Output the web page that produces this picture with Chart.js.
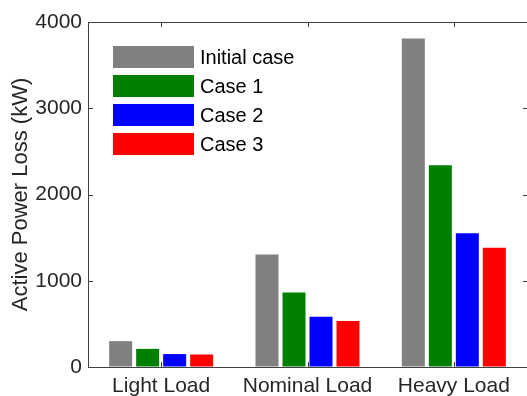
<!DOCTYPE html>
<html>
<head>
<meta charset="utf-8">
<script src="https://cdn.jsdelivr.net/npm/chart.js@4.4.0/dist/chart.umd.min.js"></script>
<style>
  html, body { margin: 0; padding: 0; background: #fff; overflow: hidden; }
  #wrap { width: 527px; height: 396px; }
</style>
</head>
<body>
<div id="wrap"><canvas id="myChart" width="527" height="396"></canvas></div>
<script>
// datos
let categories = ["Light Load", "Nominal Load", "Heavy Load"];
let seriesNames = ["Initial case", "Case 1", "Case 2", "Case 3"];
let initialCase = [300, 1305, 3810];
let case1 = [210, 865, 2338];
let case2 = [150, 583, 1550];
let case3 = [145, 532, 1383];
let yTicks = [0, 1000, 2000, 3000, 4000];
let colors = ["#808080", "#008000", "#0000ff", "#ff0000"];

const FONT = "'Liberation Sans', Arial, Helvetica, sans-serif";
const TEXT = "#262626";
const AXIS = "#404040";

// ticks hacia adentro y marco de arriba (estilo matlab)
const boxPlugin = {
  id: "boxPlugin",
  afterDraw(chart) {
    const ctx = chart.ctx;
    const a = chart.chartArea;
    const x = chart.scales.x;
    const y = chart.scales.y;
    ctx.save();
    ctx.strokeStyle = AXIS;
    ctx.lineWidth = 1;
    ctx.beginPath();
    ctx.moveTo(a.left, a.top + 0.5);
    ctx.lineTo(a.right, a.top + 0.5);
    yTicks.forEach(v => {
      const py = Math.round(y.getPixelForValue(v)) + 0.5;
      ctx.moveTo(a.left, py);
      ctx.lineTo(a.left + 5, py);
      ctx.moveTo(a.right, py);
      ctx.lineTo(a.right - 4, py);
    });
    categories.forEach((c, i) => {
      const px = Math.round(x.getPixelForValue(i)) + 0.5;
      ctx.moveTo(px, a.bottom);
      ctx.lineTo(px, a.bottom - 5);
      ctx.moveTo(px, a.top);
      ctx.lineTo(px, a.top + 5);
    });
    ctx.stroke();

    // leyenda dentro del area
    ctx.font = "20px " + FONT;
    ctx.textBaseline = "middle";
    ctx.textAlign = "left";
    chart.data.datasets.forEach((ds, i) => {
      const top = a.top + 24 + i * 29;
      ctx.fillStyle = ds.backgroundColor;
      ctx.fillRect(a.left + 25, top, 81, 22);
      ctx.fillStyle = "#000";
      ctx.fillText(ds.label, a.left + 112, top + 12);
    });
    ctx.restore();
  }
};

const ctx = document.getElementById("myChart").getContext("2d");
const myChart = new Chart(ctx, {
  type: "bar",
  data: {
    labels: categories,
    datasets: [initialCase, case1, case2, case3].map((d, i) => ({
      label: seriesNames[i],
      data: d,
      backgroundColor: colors[i],
      borderWidth: 0,
      categoryPercentage: 0.738,
      barPercentage: 0.852,
    })),
  },
  options: {
    responsive: false,
    animation: false,
    layout: { padding: { top: 22, right: 0, left: 0, bottom: 0 } },
    plugins: {
      legend: { display: false },
      tooltip: { enabled: false },
    },
    scales: {
      x: {
        grid: { display: true, drawOnChartArea: false, drawTicks: false },
        border: { display: true, color: AXIS, width: 1 },
        ticks: { color: TEXT, font: { family: FONT, size: 21 }, padding: 7, maxRotation: 0 },
        afterFit(scale) { scale.height = 29; },
      },
      y: {
        min: 0,
        max: 4000,
        grid: { display: true, drawOnChartArea: false, drawTicks: false },
        border: { display: true, color: AXIS, width: 1 },
        ticks: {
          stepSize: 1000,
          color: TEXT,
          font: { family: FONT, size: 21 },
          padding: 6,
          callback: v => String(v),
        },
        title: {
          display: true,
          text: "Active Power Loss (kW)",
          color: TEXT,
          font: { family: FONT, size: 22 },
          padding: { top: 8, bottom: 0 },
        },
        afterFit(scale) { scale.width = 88; },
      },
    },
  },
  plugins: [boxPlugin],
});
</script>
</body>
</html>
